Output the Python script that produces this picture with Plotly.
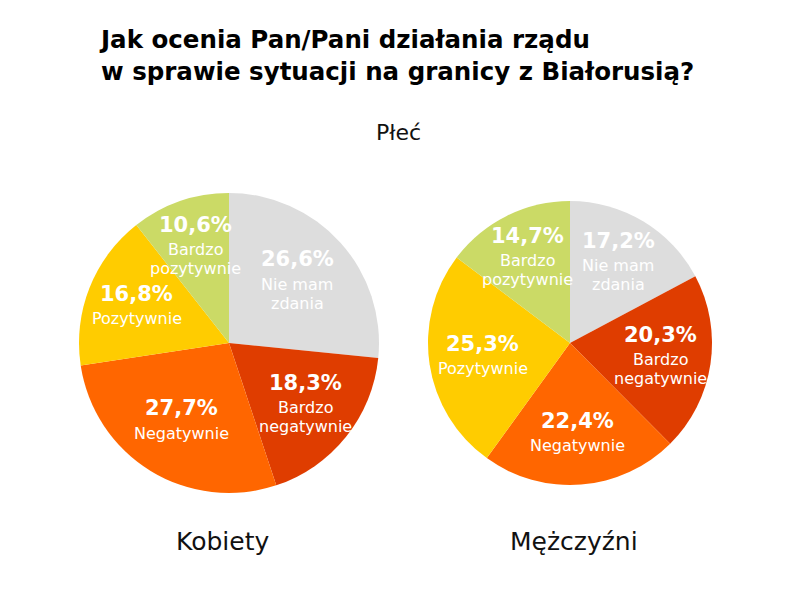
import math
import plotly.graph_objects as go

W, H = 800, 593

title_lines = ["Jak ocenia Pan/Pani działania rządu", "w sprawie sytuacji na granicy z Białorusią?"]
subtitle = "Płeć"
categories = [["Nie mam", "zdania"], ["Bardzo", "negatywnie"], ["Negatywnie"], ["Pozytywnie"], ["Bardzo", "pozytywnie"]]
women_values = [26.6, 18.3, 27.7, 16.8, 10.6]
men_values = [17.2, 20.3, 22.4, 25.3, 14.7]
group_names = ["Kobiety", "Mężczyźni"]
colors = ["#DDDDDD", "#DF3D00", "#FF6600", "#FFCC00", "#CBDA66"]

FONT = "DejaVu Sans"

# pie placement in pixels (center x, center y from top, radius)
pies = [
    dict(values=women_values, name=group_names[0], cx=229, cy=343, r=150, lx=222),
    dict(values=men_values, name=group_names[1], cx=570, cy=343, r=142, lx=574),
]

PCT_GAP = 25   # px from percentage line to first label line
LINE_GAP = 19  # px between label lines

fig = go.Figure()
annotations = []
for p in pies:
    fig.add_trace(go.Pie(
        labels=[" ".join(c) for c in categories],
        values=p["values"],
        sort=False,
        direction="clockwise",
        rotation=0,
        marker=dict(colors=colors, line=dict(width=0)),
        textinfo="none",
        hoverinfo="label+value",
        showlegend=False,
        domain=dict(x=[(p["cx"] - p["r"]) / W, (p["cx"] + p["r"]) / W],
                    y=[(H - p["cy"] - p["r"]) / H, (H - p["cy"] + p["r"]) / H]),
    ))
    total = sum(p["values"])
    cum = 0.0
    for v, cat in zip(p["values"], categories):
        frac = v / total
        mid = (cum + v / 2) / total * 2 * math.pi
        cum += v
        half = math.pi * frac
        rr = 1.04 * p["r"] * 2 * math.sin(half) / (3 * half)  # sector centroid distance
        x = p["cx"] + rr * math.sin(mid)
        y = p["cy"] - rr * math.cos(mid)
        pct = f"{v:.1f}".replace(".", ",") + "%"
        n = len(cat)
        top = -(PCT_GAP + LINE_GAP * (n - 1)) / 2
        annotations.append(dict(
            x=x / W, y=1 - y / H, xref="paper", yref="paper", yshift=-top,
            text=f"<b>{pct}</b>", showarrow=False,
            font=dict(family=FONT, size=21, color="white"),
            xanchor="center", yanchor="middle",
        ))
        for i, line in enumerate(cat):
            off = top + PCT_GAP + LINE_GAP * i
            annotations.append(dict(
                x=x / W, y=1 - y / H, xref="paper", yref="paper", yshift=-off,
                text=line, showarrow=False,
                font=dict(family=FONT, size=16, color="white"),
                xanchor="center", yanchor="middle",
            ))
    annotations.append(dict(
        x=p["lx"] / W, y=1 - 541 / H, xref="paper", yref="paper", text=p["name"], showarrow=False,
        font=dict(family=FONT, size=25, color="#111111"), xanchor="center", yanchor="middle",
    ))

annotations.append(dict(
    x=97 / W, y=1 - 55 / H, xref="paper", yref="paper",
    text="<b>" + "<br>".join(title_lines) + "</b>", showarrow=False, align="left",
    font=dict(family=FONT, size=24.5, color="#000000"), xanchor="left", yanchor="middle",
))
annotations.append(dict(
    x=398 / W, y=1 - 132 / H, xref="paper", yref="paper", text=subtitle, showarrow=False,
    font=dict(family=FONT, size=22, color="#111111"), xanchor="center", yanchor="middle",
))

fig.update_layout(
    width=W, height=H, margin=dict(l=0, r=0, t=0, b=0),
    paper_bgcolor="white", plot_bgcolor="white",
    annotations=annotations,
)
fig.write_html("out.html", config={"displayModeBar": False},
               post_script="document.body.style.margin='0';")
